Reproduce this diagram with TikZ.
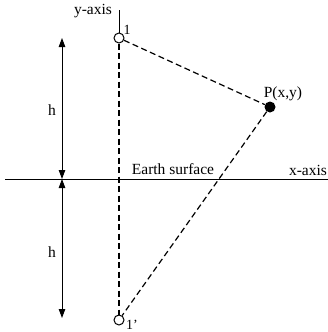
\documentclass[tikz,border=0pt]{standalone}
\usepackage{fontspec}
\setmainfont{Liberation Serif}
\usetikzlibrary{arrows.meta, positioning}

\begin{document}
\begin{tikzpicture}[
        x=1pt, y=-1pt,
        hole/.style={draw, circle, fill=white, minimum size=10pt, inner sep=0pt, line width=1pt},
        field/.style={circle, fill=black, minimum size=11pt, inner sep=0pt},
        lbl/.style={font=\fontsize{15.5}{18}\selectfont, inner sep=0pt},
        tag/.style={font=\fontsize{14}{16}\selectfont, inner sep=0pt},
        trace/.style={dash pattern=on 6pt off 3.5pt, line width=1.2pt},
        dim/.style={{Triangle[length=9pt,width=6.5pt]}-{Triangle[length=9pt,width=6.5pt]}, line width=0.9pt}
    ]
        \useasboundingbox (0,0) rectangle (328,332);

        % Axes
        \coordinate (xl) at (5,179);
        \coordinate (xr) at (328,179);
        \coordinate (ytop) at (119,10);
        \draw[line width=1pt] (xl) -- (xr);

        % Source point and its image
        \node[hole] (one) at (119,38) {};
        \node[hole] (onep) at (119,320) {};
        \node[field] (P) at (270,107) {};

        \draw[line width=1pt] (ytop) -- (one);
        \draw[trace] (one) -- (onep);
        \draw[trace] (one) -- (P);
        \draw[trace] (P) -- (onep);

        % Height markers
        \coordinate (htop) at (62,38);
        \coordinate (hmid) at (62,179);
        \coordinate (hbot) at (62,318);
        \draw[dim] (htop) -- (hmid);
        \draw[dim] (hmid) -- (hbot);
        \node[lbl] (h1) at (52,110) {h};
        \node[lbl] (h2) at (52,252) {h};

        % Labels
        \node[lbl] (yaxis) at (93,11) {y-axis};
        \node[lbl] (xaxis) at (308,170) {x-axis};
        \node[lbl] (earth) at (173,169) {Earth surface};
        \node[lbl] (Plbl) at (283,94) {P(x,y)};
        \node[tag] (onelbl) at (127,30) {1};
        \node[tag] (oneplbl) at (132,325) {1'};
    \end{tikzpicture}
\end{document}
